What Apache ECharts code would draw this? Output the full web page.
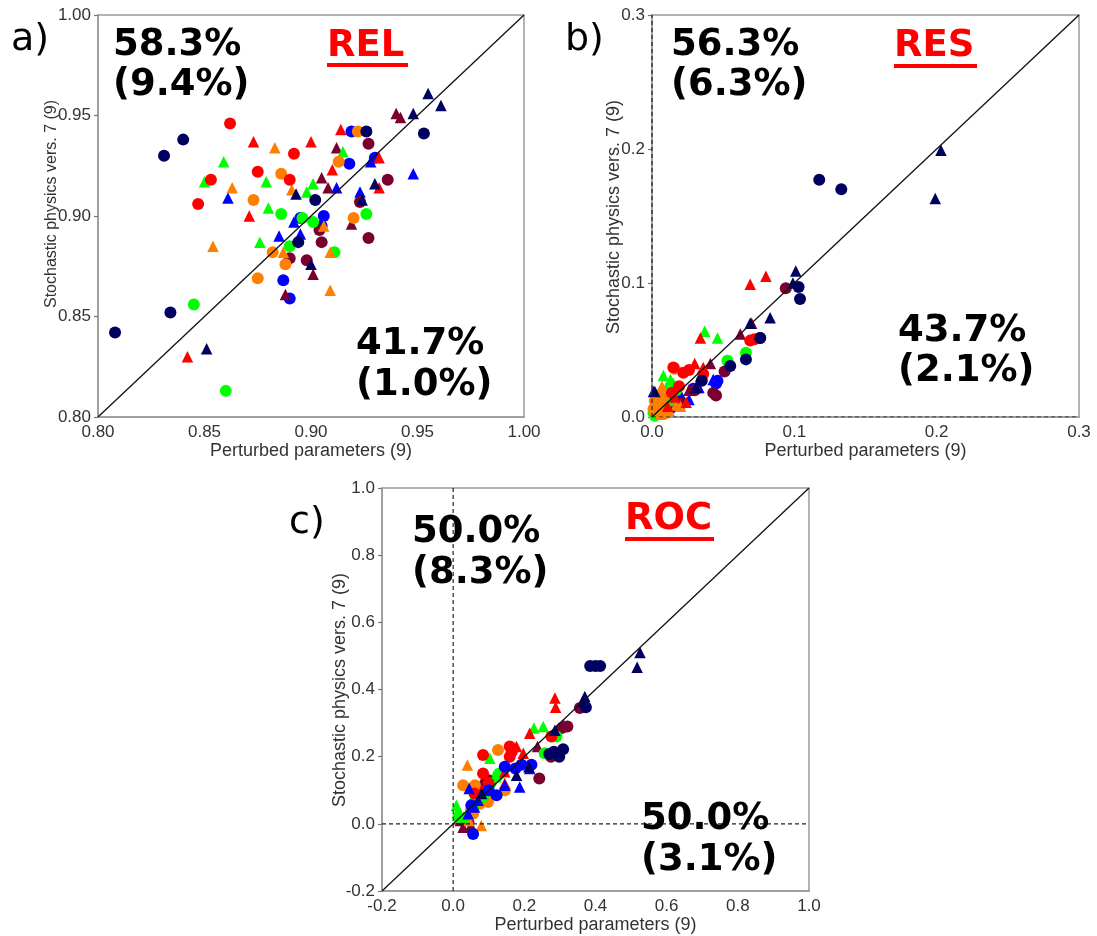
<!DOCTYPE html>
<html><head><meta charset="utf-8">
<script src="https://cdn.jsdelivr.net/npm/echarts@6/dist/echarts.min.js"></script>
<style>html,body{margin:0;padding:0;background:#fff}#c{width:1097px;height:936px}</style>
</head><body><div id="c"></div>
<script>
// ---------- axis ticks ----------
const relTicks = [0.80, 0.85, 0.90, 0.95, 1.00];
const resTicks = [0.0, 0.1, 0.2, 0.3];
const rocTicks = [-0.2, 0.0, 0.2, 0.4, 0.6, 0.8, 1.0];
const xAxisName = 'Perturbed parameters (9)';
const yAxisName = 'Stochastic physics vers. 7 (9)';

// ---------- annotation texts ----------
const panelLabels = ['a)', 'b)', 'c)'];
const panelTitles = ['REL', 'RES', 'ROC'];
const relTexts = ['58.3%', '(9.4%)', '41.7%', '(1.0%)'];
const resTexts = ['56.3%', '(6.3%)', '43.7%', '(2.1%)'];
const rocTexts = ['50.0%', '(8.3%)', '50.0%', '(3.1%)'];

// ---------- REL (panel a) ----------
const relNavyCircle = [[0.808,0.842],[0.834,0.852],[0.831,0.930],[0.840,0.938],[0.953,0.941],[0.926,0.942],[0.902,0.908],[0.894,0.887]];
const relNavyTri = [[0.955,0.961],[0.961,0.955],[0.948,0.951],[0.930,0.916],[0.893,0.911],[0.924,0.908],[0.900,0.876],[0.851,0.834]];
const relBlueCircle = [[0.919,0.942],[0.918,0.926],[0.930,0.929],[0.906,0.900],[0.895,0.899],[0.887,0.868],[0.890,0.859],[0.905,0.895]];
const relBlueTri = [[0.948,0.921],[0.928,0.927],[0.923,0.912],[0.912,0.914],[0.892,0.897],[0.885,0.890],[0.895,0.891],[0.861,0.909]];
const relGreenCircle = [[0.860,0.813],[0.845,0.856],[0.886,0.901],[0.901,0.897],[0.890,0.885],[0.911,0.882],[0.926,0.901],[0.896,0.899]];
const relGreenTri = [[0.859,0.927],[0.850,0.917],[0.879,0.917],[0.901,0.916],[0.898,0.912],[0.880,0.904],[0.876,0.887],[0.915,0.932]];
const relRedCircle = [[0.862,0.946],[0.892,0.931],[0.875,0.922],[0.853,0.918],[0.890,0.918],[0.847,0.906]];
const relRedTri = [[0.873,0.937],[0.900,0.937],[0.914,0.943],[0.910,0.923],[0.932,0.929],[0.932,0.914],[0.871,0.900],[0.842,0.830]];
const relOrangeCircle = [[0.922,0.942],[0.913,0.927],[0.886,0.921],[0.873,0.908],[0.920,0.899],[0.882,0.882],[0.888,0.876],[0.875,0.869]];
const relOrangeTri = [[0.883,0.934],[0.863,0.914],[0.891,0.913],[0.854,0.885],[0.906,0.895],[0.887,0.882],[0.909,0.882],[0.909,0.863]];
const relMaroonCircle = [[0.927,0.936],[0.936,0.918],[0.923,0.907],[0.904,0.893],[0.905,0.887],[0.927,0.889],[0.890,0.879],[0.898,0.878]];
const relMaroonTri = [[0.940,0.951],[0.942,0.949],[0.912,0.934],[0.905,0.919],[0.908,0.914],[0.919,0.896],[0.901,0.871],[0.888,0.861]];

// ---------- RES (panel b) ----------
const resNavyCircle = [[0.1175,0.177],[0.133,0.170],[0.103,0.097],[0.104,0.088],[0.076,0.059],[0.066,0.043],[0.055,0.038],[0.035,0.027]];
const resNavyTri = [[0.203,0.199],[0.199,0.163],[0.101,0.109],[0.083,0.074],[0.069,0.070],[0.099,0.100],[0.031,0.022],[0.002,0.019]];
const resBlueCircle = [[0.046,0.027],[0.029,0.021],[0.014,0.007],[0.008,0.005],[0.018,0.015],[0.004,0.003],[0.045,0.025],[0.011,0.010]];
const resBlueTri = [[0.043,0.028],[0.026,0.013],[0.001,0.019],[0.007,0.005],[0.012,0.008],[0.033,0.022],[0.004,0.012],[0.020,0.017]];
const resGreenCircle = [[0.053,0.042],[0.066,0.048],[0.012,0.012],[0.005,0.006],[0.002,0.001],[0.009,0.016],[0.017,0.020],[0.001,0.003]];
const resGreenTri = [[0.037,0.064],[0.046,0.059],[0.008,0.031],[0.013,0.028],[0.006,0.012],[0.010,0.022],[0.003,0.008],[0.015,0.025]];
const resRedCircle = [[0.015,0.037],[0.022,0.033],[0.019,0.023],[0.036,0.032],[0.069,0.057],[0.072,0.058],[0.026,0.035],[0.014,0.018]];
const resRedTri = [[0.030,0.040],[0.034,0.059],[0.069,0.099],[0.080,0.105],[0.024,0.011],[0.016,0.015],[0.011,0.008],[0.036,0.037]];
const resOrangeCircle = [[0.002,0.012],[0.005,0.004],[0.008,0.008],[0.010,0.003],[0.003,0.016],[0.007,0.015],[0.016,0.036],[0.001,0.006]];
const resOrangeTri = [[0.007,0.023],[0.017,0.009],[0.004,0.010],[0.012,0.005],[0.009,0.018],[0.002,0.005],[0.020,0.008],[0.006,0.002]];
const resMaroonCircle = [[0.045,0.016],[0.051,0.034],[0.076,0.059],[0.094,0.096],[0.043,0.018],[0.021,0.010],[0.012,0.006],[0.030,0.020]];
const resMaroonTri = [[0.041,0.040],[0.062,0.062],[0.070,0.070],[0.005,0.002],[0.018,0.012],[0.026,0.020],[0.010,0.006],[0.034,0.030]];

// ---------- ROC (panel c) ----------
const rocNavyCircle = [[0.385,0.47],[0.400,0.47],[0.413,0.47],[0.373,0.347],[0.270,0.208],[0.298,0.200],[0.309,0.222],[0.283,0.215]];
const rocNavyTri = [[0.525,0.51],[0.517,0.466],[0.370,0.379],[0.286,0.279],[0.178,0.145],[0.213,0.170],[0.365,0.365],[0.080,0.090]];
const rocBlueCircle = [[0.145,0.170],[0.192,0.176],[0.220,0.176],[0.122,0.085],[0.056,-0.030],[0.051,0.055],[0.100,0.100],[0.175,0.165]];
const rocBlueTri = [[0.187,0.110],[0.145,0.115],[0.045,0.105],[0.042,0.030],[0.060,0.050],[0.090,0.100],[0.070,0.070],[0.215,0.165]];
const rocGreenCircle = [[0.257,0.210],[0.290,0.260],[0.126,0.145],[0.084,0.080],[0.060,0.065],[0.105,0.120],[0.015,0.020],[0.130,0.150]];
const rocGreenTri = [[0.227,0.285],[0.253,0.290],[0.103,0.195],[0.009,0.055],[0.012,0.035],[0.120,0.140],[0.060,0.060],[0.030,0.020]];
const rocRedCircle = [[0.084,0.205],[0.084,0.150],[0.159,0.230],[0.159,0.200],[0.276,0.260],[0.165,0.215],[0.100,0.120],[0.060,0.090]];
const rocRedTri = [[0.286,0.375],[0.288,0.347],[0.215,0.270],[0.178,0.230],[0.197,0.210],[0.145,0.120],[0.145,0.155],[0.080,0.100]];
const rocOrangeCircle = [[0.126,0.220],[0.028,0.115],[0.061,0.115],[0.098,0.065],[0.145,0.100],[0.056,0.030],[0.075,0.060],[0.050,0.040]];
const rocOrangeTri = [[0.040,0.175],[0.079,-0.005],[0.065,0.115],[0.030,0.020],[0.100,0.080],[0.045,0.010],[0.070,0.100],[0.020,0.030]];
const rocMaroonCircle = [[0.242,0.135],[0.356,0.345],[0.321,0.290],[0.305,0.285],[0.275,0.200],[0.090,0.110],[0.030,0.010],[0.100,0.130]];
const rocMaroonTri = [[0.028,-0.010],[0.237,0.230],[0.084,0.130],[0.050,-0.005],[0.020,0.010],[0.310,0.295],[0.045,0.020],[0.090,0.120]];

// ---------- styling ----------
const palette = {navy:'#000060', blue:'#0000ff', green:'#00ff00', red:'#ff0000', orange:'#ff8000', maroon:'#7a0030'};
const panels = [
  {ticks: relTicks, dec: 2, zeroLines: false, grid:{left:98, top:15, width:426, height:402},
   groups:[['blue',relBlueCircle,relBlueTri],['maroon',relMaroonCircle,relMaroonTri],['green',relGreenCircle,relGreenTri],['orange',relOrangeCircle,relOrangeTri],['red',relRedCircle,relRedTri],['navy',relNavyCircle,relNavyTri]]},
  {ticks: resTicks, dec: 1, zeroLines: true, grid:{left:652, top:15, width:427, height:402},
   groups:[['blue',resBlueCircle,resBlueTri],['maroon',resMaroonCircle,resMaroonTri],['green',resGreenCircle,resGreenTri],['orange',resOrangeCircle,resOrangeTri],['red',resRedCircle,resRedTri],['navy',resNavyCircle,resNavyTri]]},
  {ticks: rocTicks, dec: 1, zeroLines: true, grid:{left:382, top:488, width:427, height:403},
   groups:[['maroon',rocMaroonCircle,rocMaroonTri],['orange',rocOrangeCircle,rocOrangeTri],['green',rocGreenCircle,rocGreenTri],['red',rocRedCircle,rocRedTri],['blue',rocBlueCircle,rocBlueTri],['navy',rocNavyCircle,rocNavyTri]]}
];

const labelFont = {fontFamily:'Liberation Sans', fontSize:17, color:'#333'};
const grids = [], xAxes = [], yAxes = [], series = [];
panels.forEach((p, i) => {
  const mn = p.ticks[0], mx = p.ticks[p.ticks.length-1];
  const iv = +(p.ticks[1]-p.ticks[0]).toFixed(6);
  grids.push(Object.assign({show:true, borderColor:'#9a9a9a', borderWidth:1.5, backgroundColor:'transparent'}, p.grid));
  const fmt = v => v.toFixed(p.dec);
  xAxes.push({type:'value', gridIndex:i, min:mn, max:mx, interval:iv,
    name:xAxisName, nameLocation:'middle', nameGap:25,
    nameTextStyle:{fontFamily:'Liberation Sans', fontSize:18, color:'#333'},
    axisLine:{show:true, onZero:false, lineStyle:{color:'#9a9a9a', width:1.5}},
    axisTick:{show:false}, splitLine:{show:false},
    axisLabel:Object.assign({margin:7, formatter:fmt, showMinLabel:true, showMaxLabel:true}, labelFont)});
  yAxes.push({type:'value', gridIndex:i, min:mn, max:mx, interval:iv,
    axisLine:{show:true, onZero:false, lineStyle:{color:'#9a9a9a', width:1.5}},
    axisTick:{show:true, length:4, lineStyle:{color:'#777', width:1.2}}, splitLine:{show:false},
    axisLabel:Object.assign({margin:7, formatter:fmt, showMinLabel:true, showMaxLabel:true}, labelFont)});
  p.groups.forEach(([cname, circ, tri]) => {
    series.push({type:'scatter', xAxisIndex:i, yAxisIndex:i, data:circ, symbol:'circle', symbolSize:12,
      itemStyle:{color:palette[cname], opacity:1}, silent:true, z:3});
    series.push({type:'scatter', xAxisIndex:i, yAxisIndex:i, data:tri, symbol:'triangle', symbolSize:11.5,
      itemStyle:{color:palette[cname], opacity:1}, silent:true, z:3});
  });
  // 1:1 diagonal
  series.push({type:'line', xAxisIndex:i, yAxisIndex:i, data:[[mn,mn],[mx,mx]], symbol:'none', silent:true,
    lineStyle:{color:'#111', width:1.3}, z:5});
  if (p.zeroLines) {
    series.push({type:'line', xAxisIndex:i, yAxisIndex:i, data:[[0,mn],[0,mx]], symbol:'none', silent:true,
      lineStyle:{color:'#222', width:1.2, type:[4,3]}, z:4});
    series.push({type:'line', xAxisIndex:i, yAxisIndex:i, data:[[mn,0],[mx,0]], symbol:'none', silent:true,
      lineStyle:{color:'#222', width:1.2, type:[4,3]}, z:4});
  }
});

const big = 'bold 37px "DejaVu Sans"';
const txt = (x, y, t, font, fill) => ({type:'text', x, y, z:100, silent:true,
  style:{text:t, font, fill:fill||'#000', align:'left', verticalAlign:'middle'}});
const vtxt = (x, y, t, size) => ({type:'text', x, y, rotation:Math.PI/2, z:100, silent:true,
  style:{text:t, font:size+'px "Liberation Sans"', fill:'#333', align:'center', verticalAlign:'middle'}});
const ul = (x, y, w) => ({type:'rect', z:100, silent:true, shape:{x, y, width:w, height:4}, style:{fill:'#ff0000'}});
const graphics = [
  txt(11, 40, panelLabels[0], '38px "DejaVu Sans"'),
  txt(565, 40, panelLabels[1], '38px "DejaVu Sans"'),
  txt(289, 523, panelLabels[2], '38px "DejaVu Sans"'),
  vtxt(52, 204, yAxisName, 16), vtxt(614, 217, yAxisName, 18), vtxt(340, 690, yAxisName, 18),
  // panel a
  txt(113, 45, relTexts[0], big), txt(113, 85, relTexts[1], big),
  txt(356, 344, relTexts[2], big), txt(356, 385, relTexts[3], big),
  txt(327, 46, panelTitles[0], big, '#ff0000'), ul(327, 63, 81),
  // panel b
  txt(671, 45, resTexts[0], big), txt(671, 85, resTexts[1], big),
  txt(898, 331, resTexts[2], big), txt(898, 371, resTexts[3], big),
  txt(894, 46, panelTitles[1], big, '#ff0000'), ul(894, 64, 83),
  // panel c
  txt(412, 532, rocTexts[0], big), txt(412, 573, rocTexts[1], big),
  txt(641, 819, rocTexts[2], big), txt(641, 860, rocTexts[3], big),
  txt(625, 519, panelTitles[2], big, '#ff0000'), ul(625, 537, 89)
];

const chart = echarts.init(document.getElementById('c'), null, {renderer:'canvas'});
chart.setOption({animation:false, backgroundColor:'#fff', grid:grids, xAxis:xAxes, yAxis:yAxes, series, graphic:graphics});
</script></body></html>
